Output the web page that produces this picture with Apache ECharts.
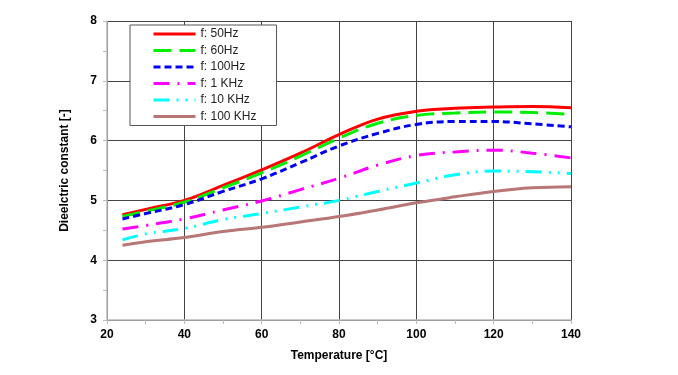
<!DOCTYPE html>
<html>
<head>
<meta charset="utf-8">
<script src="https://cdn.jsdelivr.net/npm/echarts@6/dist/echarts.min.js"></script>
<style>
  html, body { margin: 0; padding: 0; background: #fff; }
  #chart { width: 678px; height: 375px; }
</style>
</head>
<body>
<div id="chart"></div>
<script>
// temperatures [°C] and dielectric constant per frequency
var temps = [24, 30, 40, 50, 60, 70, 80, 90, 100, 110, 120, 130, 140];
var f50 = [4.76, 4.85, 5.00, 5.25, 5.51, 5.79, 6.10, 6.36, 6.49, 6.54, 6.56, 6.57, 6.55];
var f60 = [4.73, 4.82, 4.97, 5.21, 5.46, 5.74, 6.04, 6.29, 6.42, 6.46, 6.48, 6.47, 6.44];
var f100 = [4.69, 4.78, 4.93, 5.15, 5.36, 5.63, 5.91, 6.12, 6.27, 6.32, 6.32, 6.28, 6.23];
var f1k = [4.52, 4.58, 4.69, 4.84, 4.99, 5.18, 5.37, 5.59, 5.75, 5.81, 5.84, 5.79, 5.71];
var f10k = [4.34, 4.44, 4.53, 4.68, 4.78, 4.89, 5.00, 5.15, 5.29, 5.43, 5.49, 5.48, 5.45];
var f100k = [4.25, 4.31, 4.38, 4.48, 4.55, 4.64, 4.73, 4.84, 4.96, 5.06, 5.15, 5.21, 5.23];
var names = ['f: 50Hz', 'f: 60Hz', 'f: 100Hz', 'f: 1 KHz', 'f: 10 KHz', 'f: 100 KHz'];

function pairs(vals) {
  return temps.map(function (t, i) { return [t, vals[i]]; });
}

function line(name, vals, color, type) {
  return {
    name: name,
    type: 'line',
    smooth: 0.4,
    symbol: 'none',
    data: pairs(vals),
    lineStyle: { color: color, width: 3, type: type },
    itemStyle: { color: color }
  };
}

var chart = echarts.init(document.getElementById('chart'));

var axisFont = { color: '#000', fontSize: 12, fontWeight: 'bold', fontFamily: 'Liberation Sans, Arial, sans-serif' };

var option = {
  animation: false,
  backgroundColor: '#fff',
  grid: { left: 107, right: 107, top: 21, bottom: 55 },
  legend: {
    orient: 'vertical',
    left: 130,
    top: 25,
    itemWidth: 42,
    itemHeight: 10,
    itemGap: 4.5,
    padding: [3, 20, 3, 22],
    backgroundColor: '#fff',
    borderColor: '#555',
    borderWidth: 1,
    itemStyle: { opacity: 0 },
    lineStyle: { width: 3 },
    textStyle: { color: '#222', fontSize: 12, fontFamily: 'Liberation Sans, Arial, sans-serif' },
    data: names
  },
  xAxis: {
    type: 'value',
    min: 20,
    max: 140,
    interval: 20,
    name: 'Temperature [°C]',
    nameLocation: 'middle',
    nameGap: 30,
    nameTextStyle: axisFont,
    axisLine: { lineStyle: { color: '#bbb', width: 1.5 } },
    axisTick: { length: 4, lineStyle: { color: '#bbb' } },
    minorTick: { show: true, splitNumber: 2, length: 4, lineStyle: { color: '#bbb' } },
    axisLabel: Object.assign({ margin: 9 }, axisFont),
    splitLine: { lineStyle: { color: '#444', width: 1 } }
  },
  yAxis: {
    type: 'value',
    min: 3,
    max: 8,
    interval: 1,
    name: 'Dieelctric constant [-]',
    nameLocation: 'middle',
    nameGap: 36,
    nameTextStyle: axisFont,
    axisLine: { show: true, lineStyle: { color: '#bbb', width: 1.5 } },
    axisTick: { show: true, length: 4, lineStyle: { color: '#bbb' } },
    minorTick: { show: true, splitNumber: 2, length: 4, lineStyle: { color: '#bbb' } },
    axisLabel: Object.assign({ margin: 10 }, axisFont),
    splitLine: { lineStyle: { color: '#444', width: 1 } }
  },
  series: [
    line(names[0], f50, '#ff0000', 'solid'),
    line(names[1], f60, '#00ee00', [18, 8]),
    line(names[2], f100, '#0000ee', [7, 4]),
    line(names[3], f1k, '#ff00ff', [16, 8, 2, 8]),
    line(names[4], f10k, '#00ffff', [16, 7, 2, 7, 2, 7]),
    line(names[5], f100k, '#b87676', 'solid')
  ]
};

chart.setOption(option);
</script>
</body>
</html>
